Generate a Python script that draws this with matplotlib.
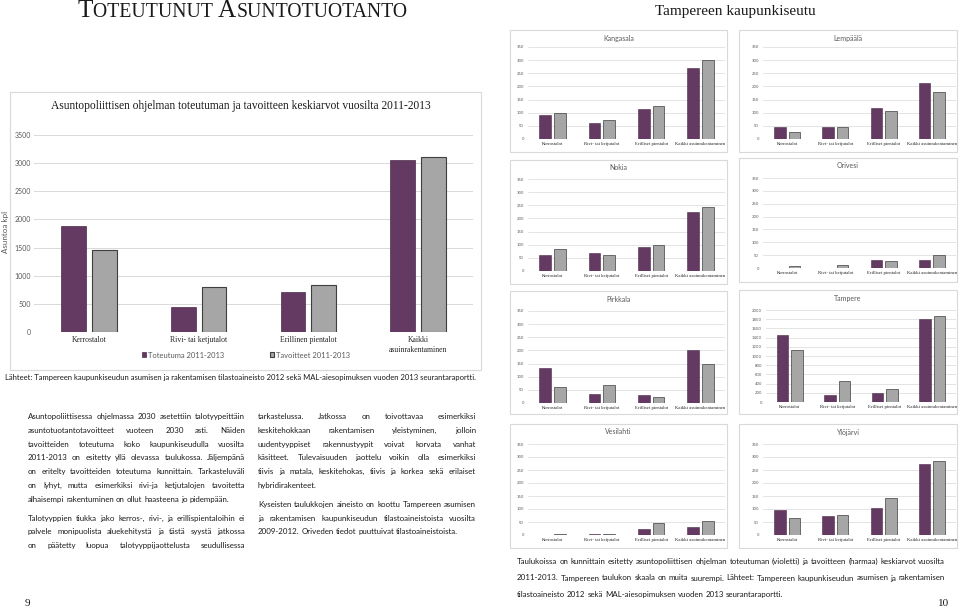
import matplotlib
matplotlib.use("Agg")
import matplotlib.pyplot as plt
from matplotlib.patches import Rectangle
from matplotlib.font_manager import FontProperties
import numpy as np

W, H = 960, 607
PURPLE = "#643a63"
GRAY = "#a6a6a6"
EDGE = "#3f3f3f"
TXT = "#595959"
GRID = "#d9d9d9"
SANS = "Lato"
SERIF = "Liberation Serif"

# main chart data
categories = ["Kerrostalot", "Rivi- tai ketjutalot", "Erillinen pientalot", "Kaikki\nasuinrakentaminen"]
toteutuma = [1880, 440, 715, 3050]
tavoitteet = [1465, 800, 840, 3110]
series_labels = ["Toteutuma 2011-2013", "Tavoitteet 2011-2013"]

# municipality panels
panel_categories = ["Kerrostalot", "Rivi- tai ketjutalot", "Erilliset pientalot", "Kaikki asuinrakentaminen"]
kangasala_tot = [91, 60, 114, 269]
kangasala_tav = [98, 74, 126, 299]
lempaala_tot = [47, 44, 118, 213]
lempaala_tav = [25, 44, 106, 179]
nokia_tot = [62, 67, 92, 223]
nokia_tav = [85, 61, 98, 243]
orivesi_tot = [0, 0, 32, 32]
orivesi_tav = [9, 10, 28, 49]
pirkkala_tot = [132, 33, 32, 200]
pirkkala_tav = [59, 67, 22, 148]
tampere_tot = [1447, 153, 204, 1804]
tampere_tav = [1120, 465, 276, 1869]
vesilahti_tot = [0, 5, 23, 31]
vesilahti_tav = [3, 4, 45, 53]
ylojarvi_tot = [95, 73, 103, 273]
ylojarvi_tav = [67, 76, 141, 285]

left_para1 = [
    "Asuntopoliittisessa ohjelmassa 2030 asetettiin talotyypeittäin",
    "asuntotuotantotavoitteet vuoteen 2030 asti. Näiden",
    "tavoitteiden toteutuma koko kaupunkiseudulla vuosilta",
    "2011-2013 on esitetty yllä olevassa taulukossa. Jäljempänä",
    "on eritelty tavoitteiden toteutuma kunnittain. Tarkasteluväli",
    "on lyhyt, mutta esimerkiksi rivi-ja ketjutalojen tavoitetta",
    "alhaisempi rakentuminen on ollut haasteena jo pidempään.",
]
left_para2 = [
    "Talotyyppien tiukka jako kerros-, rivi-, ja erillispientaloihin ei",
    "palvele monipuolista aluekehitystä ja tästä syystä jatkossa",
    "on päätetty luopua talotyyppijaottelusta seudullisessa",
]
right_para1 = [
    "tarkastelussa. Jatkossa on toivottavaa esimerkiksi",
    "keskitehokkaan rakentamisen yleistyminen, jolloin",
    "uudentyyppiset rakennustyypit voivat korvata vanhat",
    "käsitteet. Tulevaisuuden jaottelu voikin olla esimerkiksi",
    "tiivis ja matala, keskitehokas, tiivis ja korkea sekä erilaiset",
    "hybridirakenteet.",
]
right_para2 = [
    "Kyseisten taulukkojen aineisto on koottu Tampereen asumisen",
    "ja rakentamisen kaupunkiseudun tilastoaineistoista vuosilta",
    "2009-2012. Oriveden tiedot puuttuivat tilastoaineistoista.",
]
caption = [
    "Taulukoissa on kunnittain esitetty asuntopoliittisen ohjelman toteutuman (violetti) ja tavoitteen (harmaa) keskiarvot vuosilta",
    "2011-2013. Tampereen taulukon skaala on muita suurempi. Lähteet: Tampereen kaupunkiseudun asumisen ja rakentamisen",
    "tilastoaineisto 2012 sekä MAL-aiesopimuksen vuoden 2013 seurantaraportti.",
]
source = ("Lähteet: Tampereen kaupunkiseudun asumisen ja rakentamisen tilastoaineisto 2012 "
          "sekä MAL-aiesopimuksen vuoden 2013 seurantaraportti.")

fig = plt.figure(figsize=(9.6, 6.07), dpi=100)
renderer = fig.canvas.get_renderer()


def fx(x):
    return x / W


def fy(y):
    return 1 - y / H


def add_axes_px(left, top, right, bottom):
    return fig.add_axes([left / W, 1 - bottom / H, (right - left) / W, (bottom - top) / H])


def frame(left, top, right, bottom):
    fig.add_artist(Rectangle((fx(left), fy(bottom)), (right - left) / W, (bottom - top) / H,
                             transform=fig.transFigure, fill=False, ec=GRID, lw=0.8))


def tw(s, family, size):
    w, h, d = renderer.get_text_width_height_descent(s, FontProperties(family=family, size=size), ismath=False)
    return w


def fit(s, family, width):
    return 10 * width / tw(s, family, 10)


def justified(lines, x0, x1, y0, step, size, last_left=True, color="#1a1a1a"):
    space = tw("a a", SANS, size) - tw("aa", SANS, size)
    for i, line in enumerate(lines):
        y = y0 + i * step
        words = line.split()
        widths = [tw(w, SANS, size) for w in words]
        if (i == len(lines) - 1 and last_left) or len(words) < 2:
            gap = space
        else:
            gap = max((x1 - x0 - sum(widths)) / (len(words) - 1), space * 0.6)
        x = x0
        for w, ww in zip(words, widths):
            fig.text(fx(x), fy(y), w, family=SANS, size=size, color=color, ha="left", va="baseline")
            x += ww + gap


# page heading in small caps
pieces = [("T", 1.0), ("OTEUTUNUT ", 0.78), ("A", 1.0), ("SUNTOTUOTANTO", 0.78)]
base = sum(tw(p, SERIF, 10 * r) for p, r in pieces)
hs = 10 * 330 / base
x = 78
for p, r in pieces:
    fig.text(fx(x), fy(17), p, family=SERIF, size=hs * r, color="#1a1a1a", ha="left", va="baseline")
    x += tw(p, SERIF, hs * r)

sub = "Tampereen kaupunkiseutu"
fig.text(fx(655), fy(15), sub, family=SERIF, size=fit(sub, SERIF, 160), color="#1a1a1a",
         ha="left", va="baseline")

# main chart
frame(10, 92, 481, 370)
title = "Asuntopoliittisen ohjelman toteutuman ja tavoitteen keskiarvot vuosilta 2011-2013"
fig.text(fx(241), fy(109), title, family=SERIF, size=fit(title, SERIF, 382), color="#1a1a1a",
         ha="center", va="baseline")

ax = add_axes_px(34, 135, 473, 332)
xs = np.arange(len(categories))
b1 = ax.bar(xs - 0.14, toteutuma, 0.225, color=PURPLE, ec="#4a2a49", lw=0.5, label=series_labels[0])
b2 = ax.bar(xs + 0.14, tavoitteet, 0.225, color=GRAY, ec=EDGE, lw=0.8, label=series_labels[1])
ax.set_xlim(-0.5, 3.5)
ax.set_ylim(0, 3500)
ax.set_yticks(range(0, 3501, 500))
ax.set_xticks(xs)
ax.set_xticklabels(categories, family=SERIF, size=5.6, color="#262626", linespacing=1.3)
ax.tick_params(axis="y", length=0, labelsize=5, labelcolor=TXT, pad=2)
ax.tick_params(axis="x", length=0, pad=3)
for lab in ax.get_yticklabels():
    lab.set_family(SANS)
ax.yaxis.grid(True, color=GRID, lw=0.7)
ax.set_axisbelow(True)
for s in ax.spines.values():
    s.set_visible(False)
fig.text(fx(6), fy(232), "Asuntoa kpl", family=SANS, size=5.8, color=TXT, rotation=90,
         ha="center", va="center")
fig.legend(handles=[b1, b2], loc="center", bbox_to_anchor=(fx(246), fy(355)), ncol=2, frameon=False,
           prop=FontProperties(family=SANS, size=5.4), labelcolor=TXT, handlelength=0.6,
           handleheight=0.6, handletextpad=0.3, columnspacing=6)
fig.text(fx(5), fy(380), source, family=SANS, size=fit(source, SANS, 473), color="#1a1a1a",
         ha="left", va="baseline")

# municipality panels
panels = [
    ("Kangasala", kangasala_tot, kangasala_tav, (510, 30, 727, 152), (528, 725, 47, 139), 350, 50),
    ("Lempäälä", lempaala_tot, lempaala_tav, (739, 30, 957, 152), (763, 956, 47, 139), 350, 50),
    ("Nokia", nokia_tot, nokia_tav, (510, 160, 727, 284), (528, 725, 179, 271), 350, 50),
    ("Orivesi", orivesi_tot, orivesi_tav, (739, 158, 957, 282), (763, 956, 178, 268), 350, 50),
    ("Pirkkala", pirkkala_tot, pirkkala_tav, (510, 291, 727, 414), (528, 725, 311, 403), 350, 50),
    ("Tampere", tampere_tot, tampere_tav, (739, 290, 957, 414), (766, 956, 310, 402), 2000, 200),
    ("Vesilahti", vesilahti_tot, vesilahti_tav, (510, 424, 727, 548), (528, 725, 444, 535), 350, 50),
    ("Ylöjärvi", ylojarvi_tot, ylojarvi_tav, (739, 424, 957, 548), (763, 956, 444, 535), 350, 50),
]
for name, tot, tav, fr, pl, ymax, step in panels:
    frame(*fr)
    fig.text(fx((fr[0] + fr[2]) / 2), fy(fr[1] + 8), name, family=SANS, size=5, color=TXT,
             ha="center", va="center")
    pax = add_axes_px(pl[0], pl[2], pl[1], pl[3])
    px = np.arange(len(panel_categories))
    pax.bar(px - 0.15, tot, 0.24, color=PURPLE, ec="#4a2a49", lw=0.4)
    pax.bar(px + 0.15, tav, 0.24, color=GRAY, ec=EDGE, lw=0.5)
    pax.set_xlim(-0.5, 3.5)
    pax.set_ylim(0, ymax)
    pax.set_yticks(range(0, ymax + 1, step))
    pax.set_xticks(px)
    pax.set_xticklabels(panel_categories, family=SERIF, size=3.4, color="#262626")
    pax.tick_params(axis="y", length=0, labelsize=2.8, labelcolor=TXT, pad=3)
    pax.tick_params(axis="x", length=0, pad=2)
    pax.yaxis.grid(True, color=GRID, lw=0.5)
    pax.set_axisbelow(True)
    for s in pax.spines.values():
        s.set_visible(False)

# body text
body = fit("Kyseisten taulukkojen aineisto on koottu Tampereen asumisen", SANS, 217)
step, gap = 13.8, 5
justified(left_para1, 28, 245, 419, step, body)
justified(left_para2, 28, 245, 419 + 7 * step + gap, step, body, last_left=False)
justified(right_para1, 258, 476, 419, step, body)
justified(right_para2, 258, 476, 419 + 6 * step + gap, step, body)
cap = fit(caption[0], SANS, 424)
justified(caption, 517, 945, 564, 16.5, cap)

fig.text(fx(27), fy(606), "9", family=SERIF, size=8, color="#1a1a1a", ha="center", va="baseline")
fig.text(fx(944), fy(606), "10", family=SERIF, size=8, color="#1a1a1a", ha="center", va="baseline")

fig.savefig("out.png", dpi=100)
